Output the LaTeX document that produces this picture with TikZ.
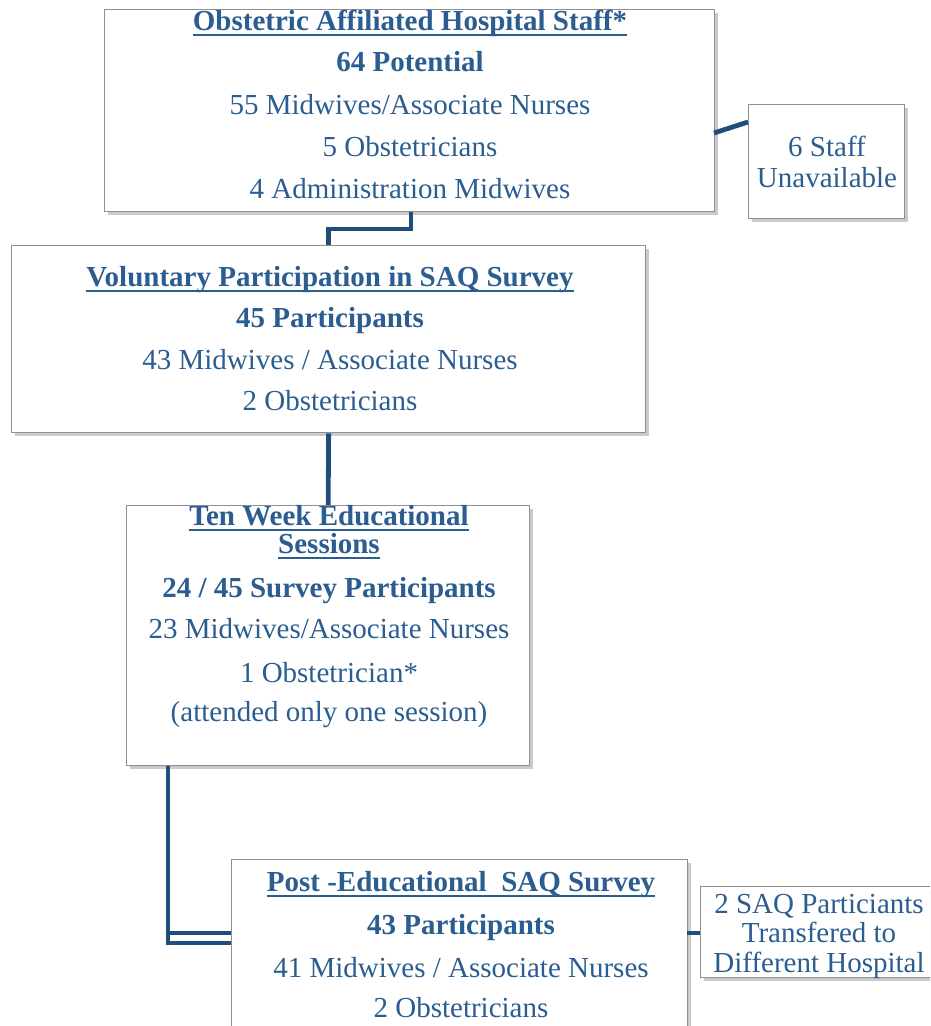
\documentclass[tikz,border=0pt]{standalone}
\usepackage{fontspec}
\setmainfont{Liberation Serif}
\usetikzlibrary{shadows,calc}
\definecolor{txt}{HTML}{2B5D91}
\definecolor{conn}{HTML}{1F4E7A}
\definecolor{edgec}{HTML}{909090}
\begin{document}
\begin{tikzpicture}[x=1pt,y=-1pt,
  box/.style={draw=edgec, line width=1.3pt, fill=white, anchor=north west, inner sep=0pt,
    drop shadow={shadow xshift=3pt, shadow yshift=-3pt, opacity=0.35, fill=black!60}},
  tl/.style={text=txt, anchor=base, inner sep=0pt, font=\fontsize{29}{31}\selectfont},
  tb/.style={tl, font=\fontsize{29}{31}\selectfont\bfseries},
  ul/.style={draw=txt, line width=2.6pt},
  conn/.style={draw=conn, line width=4.8pt, line cap=butt, line join=miter},
  connthin/.style={draw=conn, line width=4.2pt}
]
\useasboundingbox (0,0) rectangle (930,1026);
\clip (0,0) rectangle (930,1026);

% boxes
\node[box, minimum width=610pt, minimum height=202pt] (b1) at (104,9) {};
\node[box, minimum width=156pt, minimum height=114pt] (b2) at (748,104) {};
\node[box, minimum width=634pt, minimum height=187pt] (b3) at (11,245) {};
\node[box, minimum width=403pt, minimum height=260pt] (b4) at (126,505) {};
\node[box, minimum width=456pt, minimum height=200pt] (b5) at (231,859) {};
\node[box, minimum width=236pt, minimum height=91pt] (b6) at (700,886) {};

% box 1 text
\node[tb] (t1a) at (410,30) {Obstetric Affiliated Hospital Staff*};
\draw[ul] ($(t1a.base west)+(0,5)$) -- ($(t1a.base east)+(0,5)$);
\node[tb] (t1b) at (410,71) {64 Potential};
\node[tl] (t1c) at (410,114) {55 Midwives/Associate Nurses};
\node[tl] (t1d) at (410,156) {5 Obstetricians};
\node[tl] (t1e) at (410,198) {4 Administration Midwives};

% box 2 text
\node[tl] (t2a) at (827,156) {6 Staff};
\node[tl] (t2b) at (827,187) {Unavailable};

% box 3 text
\node[tb] (t3a) at (330,286) {Voluntary Participation in SAQ Survey};
\draw[ul] ($(t3a.base west)+(0,5)$) -- ($(t3a.base east)+(0,5)$);
\node[tb] (t3b) at (330,327) {45 Participants};
\node[tl] (t3c) at (330,369) {43 Midwives / Associate Nurses};
\node[tl] (t3d) at (330,410) {2 Obstetricians};

% box 4 text
\node[tb] (t4a) at (329,525) {Ten Week Educational};
\draw[ul] ($(t4a.base west)+(0,5)$) -- ($(t4a.base east)+(0,5)$);
\node[tb] (t4b) at (329,553) {Sessions};
\draw[ul] ($(t4b.base west)+(0,5)$) -- ($(t4b.base east)+(0,5)$);
\node[tb] (t4c) at (329,597) {24 / 45 Survey Participants};
\node[tl] (t4d) at (329,638) {23 Midwives/Associate Nurses};
\node[tl] (t4e) at (329,682) {1 Obstetrician*};
\node[tl] (t4f) at (329,721) {(attended only one session)};

% box 5 text
\node[tb] (t5a) at (461,891) {Post -Educational\ \ SAQ Survey};
\draw[ul] ($(t5a.base west)+(0,5)$) -- ($(t5a.base east)+(0,5)$);
\node[tb] (t5b) at (461,934) {43 Participants};
\node[tl] (t5c) at (461,977) {41 Midwives / Associate Nurses};
\node[tl] (t5d) at (461,1017) {2 Obstetricians};

% box 6 text
\node[tl] (t6a) at (819,913) {2 SAQ Particiants};
\node[tl] (t6b) at (819,942) {Transfered to};
\node[tl] (t6c) at (819,972) {Different Hospital};

% connectors
\coordinate (c1) at (411,229);
\draw[conn] (b1.south -| c1) -- (c1) -| (b3.north);
\draw[conn] (b3.south) -- (b4.north);
\coordinate (k1) at (168,943);
\coordinate (k2) at (168,933);
\draw[conn] (b4.south -| k1) -- (k1) -- (b5.west |- k1);
\draw[connthin] (k2) -- (b5.west |- k2);
\coordinate (e1) at (714,133);
\coordinate (e2) at (748,122);
\draw[conn] (e1) -- (e2);
\coordinate (f1) at (687,933);
\draw[conn] (f1) -- (b6.west |- f1);
\end{tikzpicture}
\end{document}
